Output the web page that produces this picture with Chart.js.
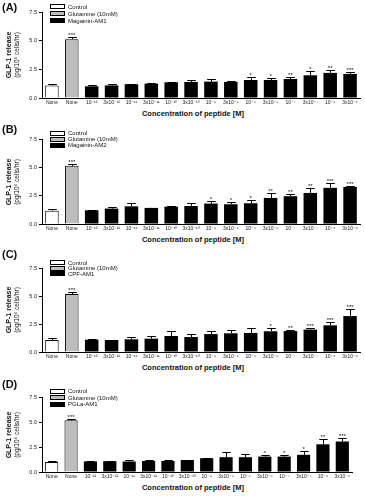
<!DOCTYPE html>
<html>
<head>
<meta charset="utf-8">
<script src="https://cdn.jsdelivr.net/npm/chart.js@4"></script>
<style>
  body { margin: 0; background: #fff; font-family: "Liberation Sans", "DejaVu Sans", Arial, sans-serif; color: #111; }
  #fig { position: relative; width: 365px; height: 500px; overflow: hidden; }
  .panel { position: absolute; left: 0; }
  .tag { position: absolute; left: 2px; font-weight: bold; font-size: 11px; line-height: 11px; }
  .ytitle { position: absolute; width: 100px; text-align: center; white-space: nowrap; transform: rotate(-90deg); }
  .xtitle { position: absolute; width: 160px; text-align: center; font-weight: bold; font-size: 7.5px; line-height: 8px; white-space: nowrap; }
  .legend { position: absolute; left: 50px; font-size: 6px; }
  .legend div { display: flex; align-items: center; white-space: nowrap; }
  .legend span.sw { display: inline-block; width: 13px; height: 3px; border: 1px solid #000; margin-right: 3px; box-sizing: content-box; }
</style>
</head>
<body>
<div id="fig"></div>
<script>
// x categories (shared by all four panels)
const doseLabels = ['None', 'None', '10⁻¹²', '3x10⁻¹²', '10⁻¹¹', '3x10⁻¹¹', '10⁻¹⁰', '3x10⁻¹⁰',
  '10⁻⁹', '3x10⁻⁹', '10⁻⁸', '3x10⁻⁸', '10⁻⁷', '3x10⁻⁷', '10⁻⁶', '3x10⁻⁶'];
const yTicks = [0, 2.5, 5, 7.5];
const panelTags = ['(A)', '(B)', '(C)', '(D)'];
const peptideNames = ['Magainin-AM1', 'Magainin-AM2', 'CPF-AM1', 'PGLa-AM1'];

// GLP-1 release, mean and SEM per bar
const meansA = [1.08, 5.13, 1.02, 1.10, 1.20, 1.25, 1.37, 1.40, 1.43, 1.40, 1.57, 1.57, 1.66, 1.98, 2.19, 2.10];
const errA   = [0.12, 0.15, 0.08, 0.15, 0.04, 0.05, 0.06, 0.17, 0.20, 0.08, 0.25, 0.17, 0.20, 0.35, 0.23, 0.18];
const starsA = ['', '***', '', '', '', '', '', '', '', '', '*', '*', '**', '*', '**', '***'];

const meansB = [1.18, 5.13, 1.21, 1.36, 1.56, 1.42, 1.53, 1.59, 1.80, 1.74, 1.83, 2.30, 2.45, 2.74, 3.19, 3.27];
const errB   = [0.12, 0.15, 0.02, 0.10, 0.25, 0.03, 0.03, 0.25, 0.22, 0.18, 0.25, 0.40, 0.20, 0.40, 0.40, 0.12];
const starsB = ['', '***', '', '', '', '', '', '', '*', '*', '*', '**', '**', '**', '***', '***'];

const meansC = [1.07, 5.18, 1.10, 1.07, 1.13, 1.19, 1.43, 1.34, 1.60, 1.67, 1.70, 1.85, 1.87, 2.00, 2.38, 3.21];
const errC   = [0.18, 0.18, 0.02, 0.02, 0.20, 0.27, 0.42, 0.24, 0.24, 0.27, 0.45, 0.30, 0.12, 0.15, 0.30, 0.60];
const starsC = ['', '***', '', '', '', '', '', '', '', '', '', '*', '**', '***', '***', '***'];

const meansD = [1.00, 5.17, 1.05, 1.08, 1.05, 1.10, 1.10, 1.20, 1.38, 1.48, 1.48, 1.54, 1.54, 1.72, 2.77, 3.05];
const errD   = [0.08, 0.15, 0.05, 0.03, 0.18, 0.10, 0.15, 0.03, 0.03, 0.50, 0.30, 0.12, 0.20, 0.37, 0.50, 0.37];
const starsD = ['', '***', '', '', '', '', '', '', '', '', '', '*', '*', '*', '**', '***'];

// page layout of each panel (pixels)
const layouts = [
  { top: 0,   plotTop: 12,  plotBottom: 98,  right: 360, legendTop: 3,   legendStep: 7 },
  { top: 122, plotTop: 139, plotBottom: 224, right: 360, legendTop: 130, legendStep: 6 },
  { top: 247, plotTop: 268, plotBottom: 352, right: 360, legendTop: 260, legendStep: 5.5 },
  { top: 377, plotTop: 397, plotBottom: 472, right: 352, legendTop: 388, legendStep: 6.5 }
];
const panelData = [
  [meansA, errA, starsA], [meansB, errB, starsB], [meansC, errC, starsC], [meansD, errD, starsD]
];

const FONT = '"Liberation Sans", "DejaVu Sans", Arial, sans-serif';
const X_AXIS_H = 10;

// draws the upper SEM whisker and the significance stars over each bar
const errorBars = {
  id: 'errorBars',
  afterDatasetsDraw(chart, args, opts) {
    const ctx = chart.ctx;
    const y = chart.scales.y;
    ctx.save();
    ctx.strokeStyle = '#000';
    ctx.fillStyle = '#111';
    ctx.lineWidth = 1;
    ctx.font = '6px ' + FONT;
    ctx.textAlign = 'center';
    ctx.textBaseline = 'bottom';
    chart.data.datasets.forEach((ds, d) => {
      const meta = chart.getDatasetMeta(d);
      meta.data.forEach((bar, i) => {
        const v = ds.data[i];
        if (v == null) return;
        const yTop = y.getPixelForValue(v + opts.errs[i]);
        const half = bar.width * 0.32;
        const x = Math.round(bar.x) + 0.5;
        const yc = Math.round(yTop) + 0.5;
        ctx.beginPath();
        ctx.moveTo(x, bar.y);
        ctx.lineTo(x, yc);
        ctx.moveTo(x - half, yc);
        ctx.lineTo(x + half, yc);
        ctx.stroke();
        if (opts.stars[i]) ctx.fillText(opts.stars[i], bar.x, yc + 1);
      });
    });
    ctx.restore();
  }
};

const fig = document.getElementById('fig');

function addDiv(cls, html, style) {
  const el = document.createElement('div');
  el.className = cls;
  el.innerHTML = html;
  Object.assign(el.style, style);
  fig.appendChild(el);
  return el;
}

layouts.forEach((lay, p) => {
  const [means, errs, stars] = panelData[p];
  const h = lay.plotBottom + X_AXIS_H - lay.top;

  const wrap = addDiv('panel', '', { top: lay.top + 'px', width: '365px', height: h + 'px' });
  const canvas = document.createElement('canvas');
  canvas.width = 365;
  canvas.height = h;
  wrap.appendChild(canvas);

  new Chart(canvas, {
    type: 'bar',
    data: {
      labels: doseLabels,
      datasets: [
        { label: 'Control', data: means.map((v, i) => i === 0 ? v : null),
          backgroundColor: '#fff', borderColor: '#000', borderWidth: 1 },
        { label: 'Glutamine (10mM)', data: means.map((v, i) => i === 1 ? v : null),
          backgroundColor: '#bdbdbd', borderColor: '#000', borderWidth: 1 },
        { label: peptideNames[p], data: means.map((v, i) => i >= 2 ? v : null),
          backgroundColor: '#000', borderColor: '#000', borderWidth: 0 }
      ]
    },
    options: {
      responsive: false,
      animation: false,
      devicePixelRatio: 1,
      barPercentage: 0.68,
      categoryPercentage: 1,
      layout: { padding: { top: lay.plotTop - lay.top, right: 365 - lay.right, left: 0, bottom: 0 } },
      plugins: {
        legend: { display: false },
        tooltip: { enabled: false },
        errorBars: { errs: errs, stars: stars }
      },
      scales: {
        x: {
          stacked: true,
          grid: { display: false, drawTicks: false, tickLength: 0 },
          border: { display: true, color: '#000', width: 1 },
          ticks: { autoSkip: false, maxRotation: 0, minRotation: 0, padding: 2,
                   font: { size: 5, family: FONT }, color: '#222' },
          afterFit: s => { s.height = X_AXIS_H; }
        },
        y: {
          min: 0, max: 7.5,
          afterBuildTicks: s => { s.ticks = yTicks.map(v => ({ value: v })); },
          ticks: { callback: v => v.toFixed(1), font: { size: 5.5, family: FONT }, color: '#222', padding: 2 },
          grid: { drawOnChartArea: false, drawTicks: true, tickLength: 3, color: '#000' },
          border: { display: true, color: '#000', width: 1 },
          afterFit: s => { s.width = 42; }
        }
      }
    },
    plugins: [errorBars]
  });

  // panel letter
  addDiv('tag', panelTags[p], { top: (lay.top + 2) + 'px' });

  // y axis title, two rotated lines
  const mid = (lay.plotTop + lay.plotBottom) / 2;
  addDiv('ytitle', 'GLP-1 release', { left: (8.5 - 50) + 'px', top: (mid - 4) + 'px', fontSize: '7px', fontWeight: 'bold', lineHeight: '8px' });
  addDiv('ytitle', '(pg/10⁶ cells/hr)', { left: (16.5 - 50) + 'px', top: (mid - 4) + 'px', fontSize: '6.5px', lineHeight: '8px' });

  // x axis title
  addDiv('xtitle', 'Concentration of peptide [M]', { left: (193 - 80) + 'px', top: (lay.plotBottom + 12) + 'px' });

  // legend
  const swatches = [['#fff', 'Control'], ['#bdbdbd', 'Glutamine (10mM)'], ['#000', peptideNames[p]]];
  addDiv('legend', swatches.map(s =>
    '<div style="height:' + lay.legendStep + 'px"><span class="sw" style="background:' + s[0] + '"></span>' + s[1] + '</div>'
  ).join(''), { top: lay.legendTop + 'px' });
});
</script>
</body>
</html>
